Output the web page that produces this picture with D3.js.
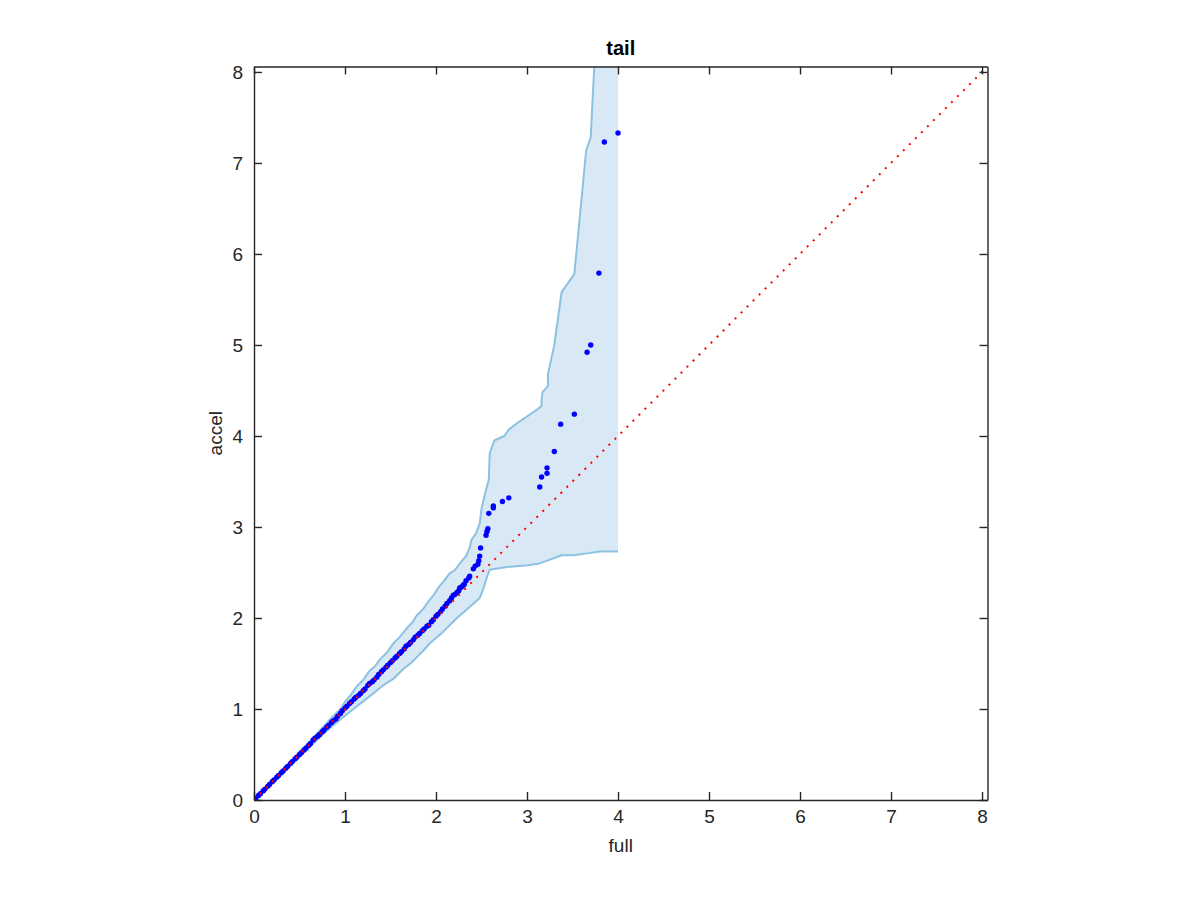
<!DOCTYPE html>
<html lang="en">
	<head>
		<meta charset="utf-8">
		<title>tail</title>
		<script type="text/javascript" src="https://cdn.jsdelivr.net/npm/d3@7"></script>
		<style type="text/css">
			body { margin: 0; background: #fff; }
			svg text { font-family: "Liberation Sans", Arial, Helvetica, sans-serif; fill: #262626; }
		</style>
	</head>
	<body>
		<script type="text/javascript">

			//Width and height
			var w = 1200;
			var h = 900;

			//Axis limits and ticks
			var axisMax = 8.06;
			var tickValues = [0, 1, 2, 3, 4, 5, 6, 7, 8];

			//Quantiles: full (x) against accel (y)
			var qFull = [0, 0.02, 0.05, 0.07, 0.10, 0.12, 0.15, 0.17, 0.20, 0.22, 0.25, 0.27, 0.30, 0.32, 0.35, 0.37,
				0.40, 0.42, 0.45, 0.47, 0.50, 0.52, 0.55, 0.57, 0.60, 0.62, 0.65, 0.67, 0.70, 0.72, 0.75, 0.77,
				0.80, 0.82, 0.85, 0.87, 0.90, 0.92, 0.95, 0.97, 1.00, 1.02, 1.05, 1.07, 1.10, 1.12, 1.15, 1.17,
				1.20, 1.22, 1.25, 1.27, 1.30, 1.32, 1.35, 1.37, 1.40, 1.42, 1.45, 1.47, 1.50, 1.52, 1.55, 1.57,
				1.60, 1.62, 1.65, 1.67, 1.70, 1.72, 1.75, 1.77, 1.80, 1.82, 1.85, 1.87, 1.90, 1.92, 1.95, 1.97,
				2.00, 2.02, 2.05, 2.07, 2.10, 2.12, 2.15, 2.17, 2.19, 2.21, 2.23, 2.25, 2.26, 2.28, 2.30, 2.31,
				2.33, 2.36, 2.37, 2.41, 2.43, 2.46, 2.47, 2.48, 2.49, 2.55, 2.56, 2.57, 2.58, 2.63, 2.63, 2.73,
				2.80, 3.14, 3.16, 3.22, 3.22, 3.30, 3.37, 3.52, 3.66, 3.70, 3.79, 3.85, 4.00];
			var qAccel = [0, 0.02, 0.05, 0.07, 0.10, 0.12, 0.15, 0.17, 0.20, 0.22, 0.25, 0.27, 0.30, 0.32, 0.35, 0.37,
				0.40, 0.42, 0.45, 0.47, 0.50, 0.52, 0.55, 0.57, 0.60, 0.62, 0.66, 0.68, 0.70, 0.72, 0.75, 0.77,
				0.80, 0.82, 0.85, 0.87, 0.89, 0.92, 0.95, 0.98, 1.01, 1.03, 1.06, 1.08, 1.11, 1.13, 1.15, 1.17,
				1.20, 1.22, 1.26, 1.28, 1.30, 1.32, 1.35, 1.38, 1.41, 1.43, 1.46, 1.48, 1.51, 1.53, 1.56, 1.58,
				1.61, 1.63, 1.66, 1.69, 1.71, 1.73, 1.76, 1.79, 1.81, 1.83, 1.86, 1.88, 1.91, 1.92, 1.96, 1.98,
				2.02, 2.04, 2.07, 2.10, 2.13, 2.16, 2.19, 2.22, 2.25, 2.26, 2.28, 2.30, 2.33, 2.34, 2.36, 2.37,
				2.41, 2.44, 2.46, 2.54, 2.57, 2.59, 2.63, 2.68, 2.77, 2.91, 2.95, 2.98, 3.15, 3.21, 3.23, 3.28,
				3.32, 3.44, 3.55, 3.59, 3.65, 3.83, 4.13, 4.24, 4.92, 5.00, 5.79, 7.23, 7.33];

			//Confidence band edges
			var upperX = [0, 0.20, 0.40, 0.60, 0.72, 0.82, 0.95, 1.00, 1.06, 1.13, 1.20, 1.27, 1.33, 1.38, 1.46, 1.53, 1.60,
				1.68, 1.74, 1.79, 1.86, 1.93, 1.98, 2.03, 2.09, 2.15, 2.21, 2.27, 2.33, 2.37, 2.39, 2.44, 2.48,
				2.50, 2.54, 2.58, 2.59, 2.64, 2.75, 2.80, 2.89, 3.11, 3.16, 3.16, 3.17, 3.23, 3.23, 3.30, 3.38,
				3.52, 3.65, 3.70, 3.72, 3.74, 3.77, 4.00];
			var upperY = [0, 0.21, 0.42, 0.63, 0.76, 0.87, 1.00, 1.08, 1.15, 1.25, 1.32, 1.42, 1.47, 1.54, 1.62, 1.72, 1.79,
				1.89, 1.95, 2.03, 2.10, 2.20, 2.26, 2.34, 2.41, 2.49, 2.53, 2.61, 2.68, 2.77, 2.86, 2.93, 3.04,
				3.20, 3.37, 3.52, 3.81, 3.95, 4.00, 4.07, 4.14, 4.29, 4.33, 4.40, 4.48, 4.55, 4.68, 5.00, 5.58,
				5.78, 7.14, 7.28, 7.69, 8.07, 9.00, 9.00];
			var lowerX = [0, 0.20, 0.40, 0.60, 0.80, 0.97, 1.13, 1.22, 1.31, 1.42, 1.53, 1.64, 1.72, 1.79, 1.86, 1.93,
				2.00, 2.08, 2.15, 2.23, 2.30, 2.37, 2.48, 2.52, 2.56, 2.59, 2.78, 3.01, 3.14, 3.38, 3.51, 3.66,
				3.80, 4.00];
			var lowerY = [0, 0.19, 0.38, 0.57, 0.76, 0.90, 1.03, 1.10, 1.17, 1.26, 1.33, 1.44, 1.50, 1.57, 1.64, 1.72,
				1.78, 1.85, 1.92, 2.00, 2.06, 2.12, 2.22, 2.32, 2.45, 2.53, 2.56, 2.58, 2.60, 2.69, 2.69, 2.71,
				2.73, 2.73];

			//Reference line y = x
			var refX = [0, axisMax];
			var refY = [0, axisMax];

			var plotLeft = 254, plotRight = 987.5, plotTop = 66.5, plotBottom = 800;

			var x = d3.scaleLinear().domain([0, axisMax]).range([plotLeft, plotRight]);
			var y = d3.scaleLinear().domain([0, axisMax]).range([plotBottom, plotTop]);

			//Create SVG element
			var svg = d3.select("body")
						.append("svg")
						.attr("width", w)
						.attr("height", h);

			svg.append("rect").attr("width", w).attr("height", h).attr("fill", "#fff");

			svg.append("clipPath")
			   .attr("id", "plotclip")
			   .append("rect")
			   .attr("x", plotLeft)
			   .attr("y", plotTop)
			   .attr("width", plotRight - plotLeft)
			   .attr("height", plotBottom - plotTop);

			var plot = svg.append("g").attr("clip-path", "url(#plotclip)");

			var upperPts = upperX.map(function(d, i) { return [d, upperY[i]]; });
			var lowerPts = lowerX.map(function(d, i) { return [d, lowerY[i]]; });

			var line = d3.line()
						 .x(function(d) { return x(d[0]); })
						 .y(function(d) { return y(d[1]); });

			//Band fill
			plot.append("path")
			    .attr("d", line(upperPts.concat(lowerPts.slice().reverse())) + "Z")
			    .attr("fill", "#d8e8f4")
			    .attr("stroke", "none");

			//Band edges (no stroke on the vertical end)
			plot.append("path")
			    .attr("d", line(upperPts.slice(0, upperPts.length - 1)))
			    .attr("fill", "none")
			    .attr("stroke", "#8dc1e1")
			    .attr("stroke-width", 2)
			    .attr("stroke-linejoin", "round");

			plot.append("path")
			    .attr("d", line(lowerPts))
			    .attr("fill", "none")
			    .attr("stroke", "#8dc1e1")
			    .attr("stroke-width", 2)
			    .attr("stroke-linejoin", "round");

			//Quantile points
			plot.selectAll("circle")
			    .data(qFull)
			    .enter()
			    .append("circle")
			    .attr("cx", function(d) { return x(d); })
			    .attr("cy", function(d, i) { return y(qAccel[i]); })
			    .attr("r", 2.7)
			    .attr("fill", "#0000ff");

			//Reference line
			plot.append("path")
			    .attr("d", line(refX.map(function(d, i) { return [d, refY[i]]; })))
			    .attr("fill", "none")
			    .attr("stroke", "#ff0000")
			    .attr("stroke-width", 2)
			    .attr("stroke-dasharray", "2,6.5");

			//Axes, ticks pointing inward on all four sides
			function styleAxis(g) {
				g.selectAll("path.domain").attr("stroke", "#262626").attr("stroke-width", 1.4);
				g.selectAll(".tick line").attr("stroke", "#262626").attr("stroke-width", 1.4);
				g.selectAll(".tick text").attr("fill", "#262626").attr("font-size", "19px")
				 .attr("font-family", "Liberation Sans, Arial, sans-serif");
			}

			svg.append("g")
			   .attr("transform", "translate(0," + plotBottom + ")")
			   .call(d3.axisBottom(x).tickValues(tickValues).tickSize(-8).tickSizeOuter(0).tickPadding(10))
			   .call(styleAxis);

			svg.append("g")
			   .attr("transform", "translate(" + plotLeft + ",0)")
			   .call(d3.axisLeft(y).tickValues(tickValues).tickSize(-8).tickSizeOuter(0).tickPadding(11))
			   .call(styleAxis);

			svg.append("g")
			   .attr("transform", "translate(0," + plotTop + ")")
			   .call(d3.axisTop(x).tickValues(tickValues).tickSize(-8).tickSizeOuter(0).tickFormat(""))
			   .call(styleAxis);

			svg.append("g")
			   .attr("transform", "translate(" + plotRight + ",0)")
			   .call(d3.axisRight(y).tickValues(tickValues).tickSize(-8).tickSizeOuter(0).tickFormat(""))
			   .call(styleAxis);

			//Labels
			svg.append("text")
			   .text("tail")
			   .attr("x", (plotLeft + plotRight) / 2)
			   .attr("y", 55)
			   .attr("text-anchor", "middle")
			   .attr("font-size", "20px")
			   .attr("font-weight", "bold")
			   .style("fill", "#000");

			svg.append("text")
			   .text("full")
			   .attr("x", (plotLeft + plotRight) / 2)
			   .attr("y", 852)
			   .attr("text-anchor", "middle")
			   .attr("font-size", "19px");

			svg.append("text")
			   .text("accel")
			   .attr("transform", "translate(222," + ((plotTop + plotBottom) / 2) + ") rotate(-90)")
			   .attr("text-anchor", "middle")
			   .attr("font-size", "19px");

		</script>
	</body>
</html>
